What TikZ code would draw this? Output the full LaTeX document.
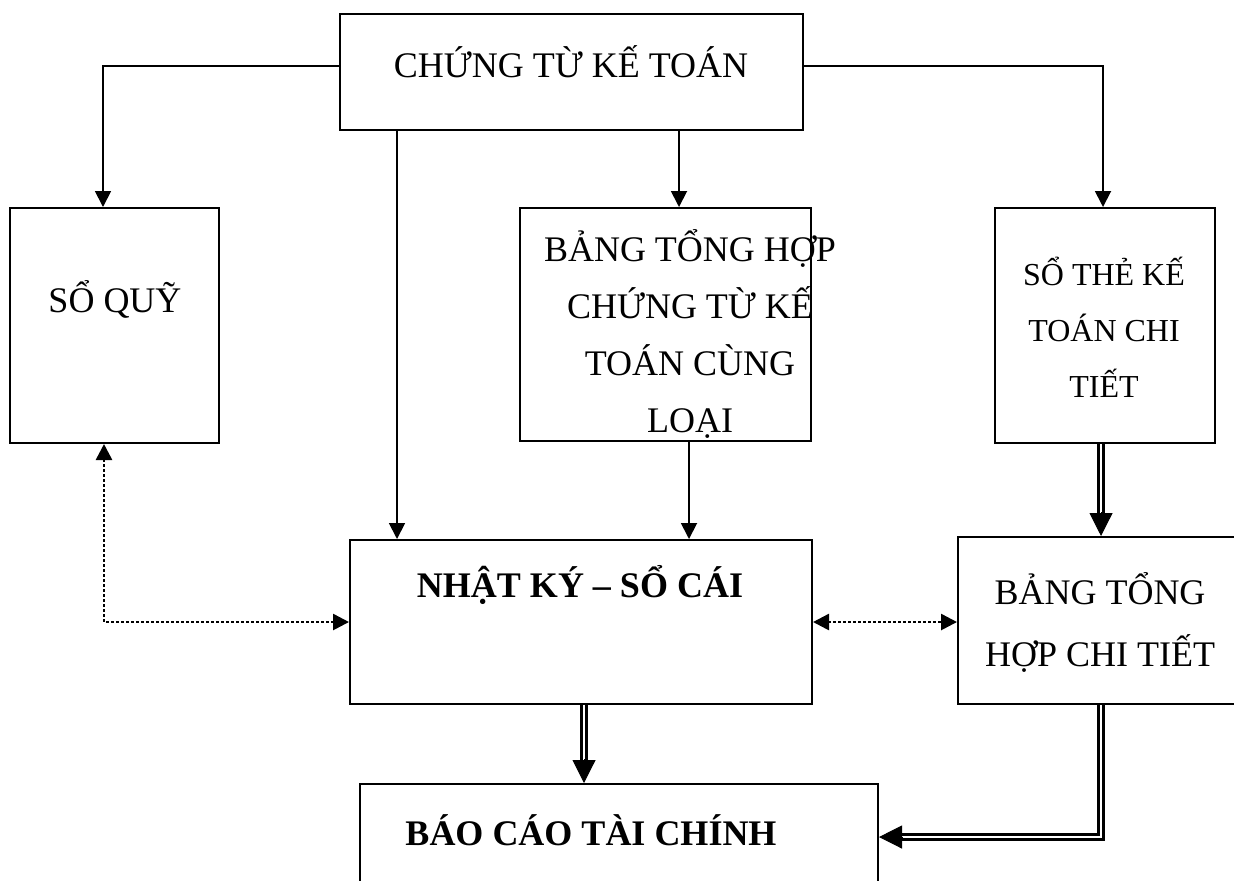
\documentclass[tikz,border=0pt]{standalone}
\usepackage{fontspec}
\setmainfont{Liberation Serif}
\usetikzlibrary{arrows.meta,calc}

\begin{document}
\begin{tikzpicture}[x=0.5pt,y=-0.5pt,
  box/.style={draw, line width=1pt, inner sep=0pt},
  lbl/.style={align=center, anchor=base, inner sep=0pt, font=\fontsize{18}{27.5}\selectfont},
  boldlbl/.style={lbl, font=\fontsize{18}{27.5}\selectfont\bfseries},
  conn/.style={line width=0.9pt, -{Triangle[length=8pt,width=8pt]}},
  dots/.style={line width=1.3pt, dash pattern=on 1.3pt off 1.2pt,
    {Triangle[length=8pt,width=8pt]}-{Triangle[length=8pt,width=8pt]}},
  dbl/.style={double, line width=1.3pt, double distance=1.3pt, shorten >=8pt},
  bigtip/.style={line width=0.5pt, -{Triangle[length=11.5pt,width=11.5pt]}},
]
\useasboundingbox (0,0) rectangle (1234,880);
\clip (0,0) rectangle (1234,880);

% boxes
\node[box, minimum width=231.5pt, minimum height=58pt]   (ctkt) at (571.5,72)   {};
\node[box, minimum width=104.5pt, minimum height=117.5pt] (sq)  at (114.5,325.5) {};
\node[box, minimum width=145.5pt, minimum height=116.5pt] (bth) at (665.5,324.5) {};
\node[box, minimum width=110pt,   minimum height=117.5pt] (st)  at (1105,325.5)  {};
\node[box, minimum width=231pt,   minimum height=82pt]    (nk)  at (581,622)     {};
\node[box, minimum width=143pt,   minimum height=83.5pt]  (ct)  at (1101,620.5)  {};
\node[box, minimum width=259pt,   minimum height=53pt]    (bc)  at (619,837)     {};

% labels (multi-line labels sit on the baseline of their last line)
\node[lbl] (tctkt) at (571,77) {CHỨNG TỪ KẾ TOÁN};
\node[lbl] (tsq) at (115,312) {SỔ QUỸ};
\node[lbl, font=\fontsize{18}{28.5}\selectfont] (tbth) at (690,432) {BẢNG TỔNG HỢP\\CHỨNG TỪ KẾ\\TOÁN CÙNG\\LOẠI};
\node[lbl, font=\fontsize{16}{28}\selectfont] (tst) at (1104,397) {SỔ THẺ KẾ\\TOÁN CHI\\TIẾT};
\node[boldlbl] (tnk) at (580,597) {NHẬT KÝ – SỔ CÁI};
\node[lbl, font=\fontsize{18}{31}\selectfont] (tct) at (1100,666) {BẢNG TỔNG\\HỢP CHI TIẾT};
\node[boldlbl] (tbc) at (591,845) {BÁO CÁO TÀI CHÍNH};

% plain connectors
\draw[conn] ([yshift=3pt]ctkt.west) -| ([xshift=-5.75pt]sq.north);
\draw[conn] ([yshift=3pt]ctkt.east) -| ([xshift=-1pt]st.north);
\draw[conn] ([xshift=24pt]nk.north west |- ctkt.south) -- ([xshift=24pt]nk.north west);
\draw[conn] ([xshift=6.75pt]bth.north |- ctkt.south) -- ([xshift=6.75pt]bth.north);
\draw[conn] ([xshift=11.75pt]bth.south) -- ([xshift=11.75pt]bth.south |- nk.north);

% double connectors with heavy heads
\draw[dbl] ([xshift=-2pt]st.south) -- ([xshift=-2pt]st.south |- ct.north);
\draw[bigtip] ([xshift=-2pt,yshift=12pt]st.south |- ct.north) -- ([xshift=-2pt]st.south |- ct.north);
\draw[dbl] ([xshift=1.5pt]nk.south) -- ([xshift=1.5pt]nk.south |- bc.north);
\draw[bigtip] ([xshift=1.5pt,yshift=12pt]nk.south |- bc.north) -- ([xshift=1.5pt]nk.south |- bc.north);
\draw[dbl] (ct.south) |- (bc.east);
\draw[bigtip] ([xshift=12pt]bc.east) -- (bc.east);

% dotted two-way links
\draw[dots] ([xshift=-5.25pt]sq.south) |- (nk.west);
\draw[dots] (nk.east) -- (nk.east -| ct.west);
\end{tikzpicture}
\end{document}
